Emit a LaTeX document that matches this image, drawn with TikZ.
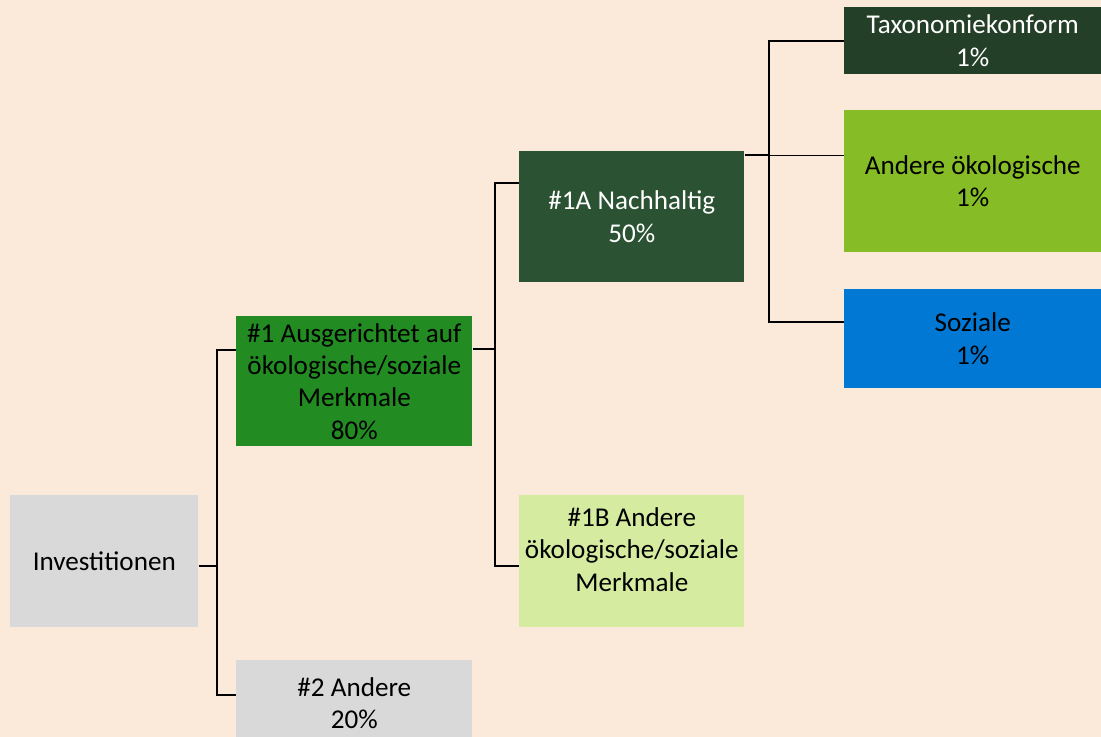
\documentclass[tikz,border=0pt]{standalone}
\usepackage{fontspec}
\setmainfont{Carlito}
\usetikzlibrary{calc}
\definecolor{peach}{HTML}{FBE9D9}
\definecolor{ltgray}{HTML}{D9D9D9}
\definecolor{fgreen}{HTML}{228B22}
\definecolor{dkgreen}{HTML}{2C5234}
\definecolor{vdkgreen}{HTML}{243F28}
\definecolor{lime}{HTML}{86BC25}
\definecolor{pale}{HTML}{D4EBA0}
\definecolor{msblue}{HTML}{0078D4}
\newcommand\pxu{0.025cm}

\begin{document}
\begin{tikzpicture}[x=\pxu, y=-\pxu,
  box/.style={anchor=north west, inner sep=0pt, align=center,
    font=\fontsize{19.3}{23}\selectfont},
  conn/.style={black, line width=1.9pt}]

% Background
\fill[peach] (0,0) rectangle (1101,737);
\clip (0,0) rectangle (1101,737);

% Boxes
\node[box, fill=ltgray, minimum width=188*\pxu, minimum height=132*\pxu] (inv) at (10,495) {Investitionen};
\node[box, fill=fgreen, minimum width=236*\pxu, minimum height=130*\pxu] (a1) at (236,316)
  {\#1 Ausgerichtet auf\\ökologische/soziale\\Merkmale\\80\%};
\node[box, fill=ltgray, minimum width=236*\pxu, minimum height=86*\pxu] (a2) at (236,660) {\#2 Andere\\20\%};
\node[box, fill=dkgreen, text=white, minimum width=225*\pxu, minimum height=131*\pxu] (n1a) at (519,151)
  {\#1A Nachhaltig\\50\%};
\node[box, fill=pale, minimum width=225*\pxu, minimum height=132*\pxu] (n1b) at (519,495)
  {\#1B Andere\\ökologische/soziale\\Merkmale\\[-6pt]\mbox{}};
\node[box, fill=vdkgreen, text=white, minimum width=257*\pxu, minimum height=67*\pxu] (tax) at (844,7)
  {Taxonomiekonform\\1\%};
\node[box, fill=lime, minimum width=257*\pxu, minimum height=142*\pxu] (ando) at (844,110)
  {Andere ökologische\\1\%};
\node[box, fill=msblue, minimum width=257*\pxu, minimum height=99*\pxu] (soz) at (844,289)
  {Soziale\\1\%};

% Connectors
\coordinate (j1) at (217,566);
\coordinate (j2) at (495,349);
\coordinate (j3) at (769,155);

\draw[conn] (inv.east |- j1) -- (j1);
\draw[conn] (a1.west |- 0,350) -| (j1) |- (a2.west |- 0,695);

\draw[conn] (a1.east |- j2) -- (j2);
\draw[conn] (n1a.west |- 0,183) -| (j2) |- (n1b.west |- 0,566);

\draw[conn] (n1a.east |- j3) -- (j3);
\draw[conn] (tax.west |- 0,41) -| (j3) |- (soz.west |- 0,322);
\draw[black, line width=0.7pt] (j3) -- (ando.west |- j3);

\end{tikzpicture}
\end{document}
